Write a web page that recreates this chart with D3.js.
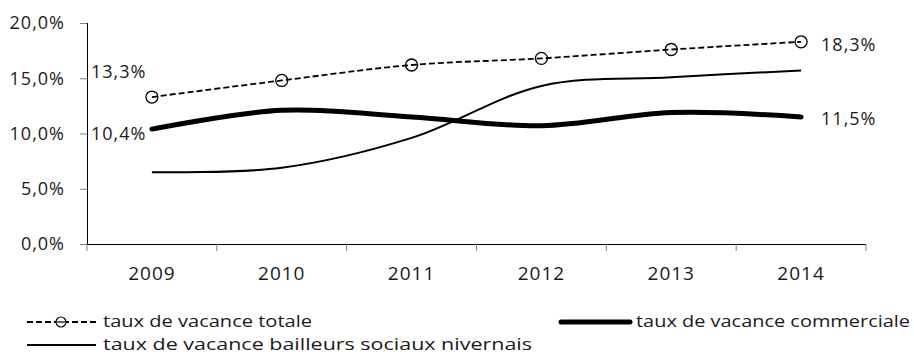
<!DOCTYPE html>
<html>
<head>
<meta charset="utf-8">
<script src="https://cdn.jsdelivr.net/npm/d3@7"></script>
<style>
  html, body { margin: 0; padding: 0; background: #fff; }
  svg { display: block; font-family: "Open Sans", "Noto Sans", sans-serif; }
</style>
</head>
<body>
<svg id="chart" width="914" height="356"></svg>
<script>
// Vacancy rates, Nièvre, 2009–2014 (percent)
const years = ["2009", "2010", "2011", "2012", "2013", "2014"];
const totale = [13.3, 14.8, 16.2, 16.8, 17.6, 18.3];
const commerciale = [10.4, 12.1, 11.5, 10.7, 11.9, 11.5];
const bailleurs = [6.5, 6.9, 9.6, 14.3, 15.1, 15.7];
const yTicks = [0, 5, 10, 15, 20];

const fmt = v => d3.format(".1f")(v).replace(".", ",") + "%";

const svg = d3.select("#chart");
const plot = { left: 87, right: 866, top: 23, bottom: 244 };
const ink = "#1a1a1a";

const x = d3.scaleBand().domain(years).range([plot.left, plot.right]);
const y = d3.scaleLinear().domain([0, 20]).range([plot.bottom, plot.top]);
const cx = d => x(d) + x.bandwidth() / 2;

// axes
const yAxis = svg.append("g")
  .attr("transform", `translate(${plot.left},0)`)
  .call(d3.axisLeft(y).tickValues(yTicks).tickFormat(fmt).tickSize(7).tickPadding(15));
const xAxis = svg.append("g")
  .attr("transform", `translate(0,${plot.bottom})`)
  .call(d3.axisBottom(x).tickSize(0).tickPadding(23));
// category boundary ticks
xAxis.selectAll(".bound").data(d3.range(years.length + 1)).enter().append("line")
  .attr("class", "bound")
  .attr("x1", i => plot.left + i * x.bandwidth()).attr("x2", i => plot.left + i * x.bandwidth())
  .attr("y1", 0).attr("y2", 7)
  .attr("stroke", "#808080");
[yAxis, xAxis].forEach(g => {
  g.select(".domain").attr("stroke", "#000").attr("stroke-width", 1);
  g.selectAll(".tick line").attr("stroke", "#808080");
  g.selectAll("text").attr("fill", ink).style("font-family", "'Open Sans', sans-serif")
    .style("letter-spacing", "1px");
});
yAxis.selectAll("text").style("font-size", "18px");
xAxis.selectAll("text").style("font-size", "19px");
yAxis.select(".domain").attr("d", `M0.5,${plot.top}V${plot.bottom}`);
xAxis.select(".domain").attr("d", `M${plot.left},0.5H${plot.right}`);

const line = d3.line()
  .x((d, i) => cx(years[i]))
  .y(d => y(d))
  .curve(d3.curveCatmullRom.alpha(0.5));

// series lines
svg.append("path").datum(bailleurs)
  .attr("d", line).attr("fill", "none").attr("stroke", "#000").attr("stroke-width", 2);
svg.append("path").datum(commerciale)
  .attr("d", line).attr("fill", "none").attr("stroke", "#000").attr("stroke-width", 5)
  .attr("stroke-linecap", "round");
svg.append("path").datum(totale)
  .attr("d", line).attr("fill", "none").attr("stroke", "#000").attr("stroke-width", 1.8)
  .attr("stroke-dasharray", "6,3");
svg.selectAll(".mk").data(totale).enter().append("circle")
  .attr("class", "mk")
  .attr("cx", (d, i) => cx(years[i])).attr("cy", d => y(d)).attr("r", 6)
  .attr("fill", "none").attr("stroke", "#000").attr("stroke-width", 1.3);

// value labels at both ends
const label = (v, xPos, yPos) => svg.append("text")
  .attr("x", xPos).attr("y", yPos).attr("dy", "0.35em")
  .attr("fill", ink).style("font-size", "18px").style("letter-spacing", "1px").text(fmt(v));
const last = cx(years[years.length - 1]);
label(totale[0], 91, y(totale[0]) - 25);
label(commerciale[0], 91, y(commerciale[0]) + 5);
label(totale[totale.length - 1], last + 20, y(totale[totale.length - 1]) + 3);
label(commerciale[commerciale.length - 1], last + 20, y(commerciale[commerciale.length - 1]) + 2);

// legend: two rows, baseline-aligned text with fixed run lengths
const leg = svg.append("g").style("font-size", "16.8px").attr("fill", ink);
const row1 = 327, row2 = 350;         // text baselines
const sym1 = row1 - 5, sym2 = row2 - 5; // symbol centre lines
const legendText = (tx, ty, txt, len) => leg.append("text")
  .attr("x", tx).attr("y", ty)
  .attr("textLength", len).attr("lengthAdjust", "spacingAndGlyphs")
  .text(txt);

leg.append("line").attr("x1", 27).attr("x2", 96).attr("y1", sym1).attr("y2", sym1)
  .attr("stroke", "#000").attr("stroke-width", 1.8).attr("stroke-dasharray", "6,3");
leg.append("circle").attr("cx", 61).attr("cy", sym1).attr("r", 5)
  .attr("fill", "#fff").attr("stroke", "#000").attr("stroke-width", 1.2);
leg.append("line").attr("x1", 57).attr("x2", 65).attr("y1", sym1).attr("y2", sym1)
  .attr("stroke", "#000").attr("stroke-width", 1.2);
legendText(103, row1, "taux de vacance totale", 209);

leg.append("line").attr("x1", 561).attr("x2", 630).attr("y1", sym1).attr("y2", sym1)
  .attr("stroke", "#000").attr("stroke-width", 5).attr("stroke-linecap", "round");
legendText(636, row1, "taux de vacance commerciale", 274);

leg.append("line").attr("x1", 27).attr("x2", 96).attr("y1", sym2).attr("y2", sym2)
  .attr("stroke", "#000").attr("stroke-width", 2);
legendText(103, row2, "taux de vacance bailleurs sociaux nivernais", 429);
</script>
</body>
</html>
